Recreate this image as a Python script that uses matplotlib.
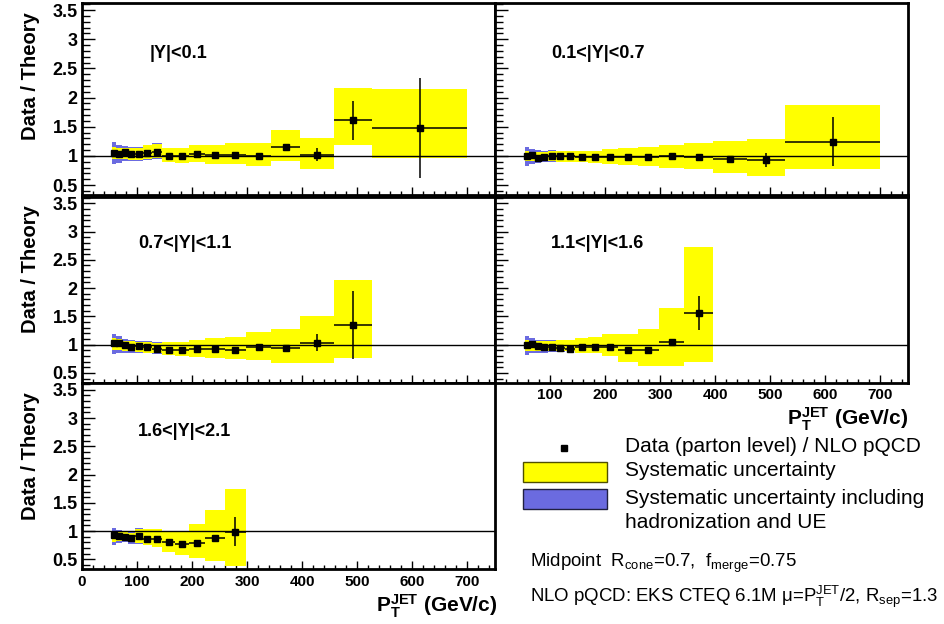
import matplotlib
matplotlib.use("Agg")
import matplotlib.pyplot as plt
from matplotlib.ticker import FixedLocator, MultipleLocator, FuncFormatter, NullFormatter
from matplotlib.patches import Rectangle
from matplotlib.lines import Line2D
import numpy as np

plt.rcParams['font.family'] = ['Liberation Sans', 'DejaVu Sans']
plt.rcParams['mathtext.fontset'] = 'custom'
plt.rcParams['mathtext.rm'] = 'Liberation Sans'
plt.rcParams['mathtext.it'] = 'Liberation Sans:italic'
plt.rcParams['mathtext.bf'] = 'Liberation Sans:bold'

# ---- data: jet pT bins (GeV/c) and Data/Theory ratios per rapidity region ----
pt_edges = [54, 62, 72, 83, 96, 110, 127, 146, 169, 195, 224, 259, 298, 344, 396, 457, 527, 700]

region_labels = ["|Y|<0.1", "0.1<|Y|<0.7", "0.7<|Y|<1.1", "1.1<|Y|<1.6", "1.6<|Y|<2.1"]

ratio_y1 = [1.05, 1.04, 1.06, 1.03, 1.03, 1.05, 1.07, 1.00, 1.00, 1.03, 1.01, 1.02, 1.00, 1.15, 1.02, 1.61, 1.48]
stat_y1 = [0.01, 0.01, 0.01, 0.01, 0.01, 0.01, 0.01, 0.01, 0.01, 0.01, 0.01, 0.01, 0.02, 0.03, 0.11, 0.33, 0.86]
sys_lo_y1 = [0.94, 0.94, 0.94, 0.93, 0.93, 0.94, 0.96, 0.89, 0.88, 0.89, 0.86, 0.86, 0.82, 0.91, 0.77, 1.18, 0.96]
sys_hi_y1 = [1.15, 1.13, 1.14, 1.13, 1.13, 1.18, 1.21, 1.14, 1.13, 1.19, 1.18, 1.22, 1.22, 1.45, 1.31, 2.16, 2.15]
had_y1 = [0.08, 0.06, 0.03, 0.02, 0.02, 0.01, 0.01, 0.0, 0.0, 0.0, 0.0, 0.0, 0.0, 0.0, 0.0, 0.0, 0.0]

ratio_y2 = [1.00, 1.01, 0.97, 0.98, 0.99, 1.00, 1.00, 0.98, 0.98, 0.98, 0.98, 0.98, 0.99, 0.98, 0.94, 0.93, 1.24]
stat_y2 = [0.01, 0.01, 0.01, 0.01, 0.01, 0.01, 0.01, 0.01, 0.01, 0.01, 0.01, 0.01, 0.01, 0.01, 0.02, 0.12, 0.42]
sys_lo_y2 = [0.91, 0.91, 0.91, 0.91, 0.91, 0.90, 0.90, 0.89, 0.88, 0.86, 0.85, 0.82, 0.79, 0.77, 0.71, 0.66, 0.77]
sys_hi_y2 = [1.08, 1.07, 1.07, 1.07, 1.08, 1.08, 1.08, 1.09, 1.09, 1.11, 1.13, 1.16, 1.19, 1.22, 1.25, 1.29, 1.87]
had_y2 = [0.08, 0.05, 0.03, 0.02, 0.02, 0.01, 0.01, 0.0, 0.0, 0.0, 0.0, 0.0, 0.0, 0.0, 0.0, 0.0, 0.0]

ratio_y3 = [1.02, 1.02, 0.99, 0.96, 0.98, 0.96, 0.93, 0.91, 0.91, 0.92, 0.92, 0.91, 0.95, 0.94, 1.035, 1.34]
stat_y3 = [0.01, 0.01, 0.01, 0.01, 0.01, 0.01, 0.01, 0.01, 0.01, 0.01, 0.01, 0.01, 0.01, 0.02, 0.15, 0.60]
sys_lo_y3 = [0.90, 0.90, 0.88, 0.88, 0.87, 0.86, 0.85, 0.81, 0.80, 0.78, 0.76, 0.74, 0.72, 0.68, 0.68, 0.77]
sys_hi_y3 = [1.11, 1.10, 1.07, 1.06, 1.05, 1.05, 1.03, 1.04, 1.05, 1.08, 1.11, 1.14, 1.22, 1.27, 1.51, 2.14]
had_y3 = [0.07, 0.05, 0.03, 0.02, 0.02, 0.01, 0.01, 0.0, 0.0, 0.0, 0.0, 0.0, 0.0, 0.0, 0.0, 0.0]

ratio_y4 = [0.99, 1.01, 0.98, 0.96, 0.96, 0.94, 0.93, 0.96, 0.95, 0.95, 0.91, 0.91, 1.05, 1.555]
stat_y4 = [0.01, 0.01, 0.01, 0.01, 0.01, 0.01, 0.01, 0.01, 0.01, 0.01, 0.01, 0.02, 0.04, 0.30]
sys_lo_y4 = [0.89, 0.89, 0.88, 0.88, 0.88, 0.88, 0.88, 0.86, 0.85, 0.79, 0.70, 0.62, 0.63, 0.69]
sys_hi_y4 = [1.08, 1.07, 1.07, 1.07, 1.07, 1.08, 1.08, 1.12, 1.13, 1.18, 1.18, 1.28, 1.64, 2.73]
had_y4 = [0.07, 0.04, 0.02, 0.02, 0.01, 0.01, 0.0, 0.0, 0.0, 0.0, 0.0, 0.0, 0.0, 0.0]

ratio_y5 = [0.94, 0.91, 0.90, 0.87, 0.91, 0.86, 0.86, 0.80, 0.77, 0.79, 0.87, 0.99]
stat_y5 = [0.01, 0.01, 0.01, 0.01, 0.01, 0.01, 0.01, 0.01, 0.01, 0.02, 0.02, 0.26]
sys_lo_y5 = [0.81, 0.82, 0.82, 0.80, 0.79, 0.75, 0.72, 0.63, 0.57, 0.53, 0.48, 0.385]
sys_hi_y5 = [1.00, 0.99, 0.98, 0.97, 1.04, 1.04, 1.04, 0.99, 0.99, 1.12, 1.38, 1.75]
had_y5 = [0.06, 0.03, 0.02, 0.02, 0.01, 0.0, 0.0, 0.0, 0.0, 0.0, 0.0, 0.0]

y_ticks = [0.5, 1.0, 1.5, 2.0, 2.5, 3.0, 3.5]
x_ticks = [0, 100, 200, 300, 400, 500, 600, 700]

panels = [
    (ratio_y1, stat_y1, sys_lo_y1, sys_hi_y1, had_y1),
    (ratio_y2, stat_y2, sys_lo_y2, sys_hi_y2, had_y2),
    (ratio_y3, stat_y3, sys_lo_y3, sys_hi_y3, had_y3),
    (ratio_y4, stat_y4, sys_lo_y4, sys_hi_y4, had_y4),
    (ratio_y5, stat_y5, sys_lo_y5, sys_hi_y5, had_y5),
]

YELLOW = '#ffff00'
BLUE = '#6b6be0'

W, H = 945, 624
fig = plt.figure(figsize=(W / 100, H / 100), dpi=100)
fig.patch.set_facecolor('white')


def add_axes_px(x0, y0, x1, y1):
    return fig.add_axes([x0 / W, 1 - y1 / H, (x1 - x0) / W, (y1 - y0) / H])


# pad layout in pixels: (left, top, right, bottom)
boxes = [
    (82, 3, 495, 195),
    (495, 3, 908, 195),
    (82, 196.5, 495, 382.5),
    (495, 196.5, 908, 382.5),
    (82, 383, 495, 569),
]
label_pos = [(150, 54), (551, 54), (138, 244), (551, 244), (138, 431)]

fmt = FuncFormatter(lambda v, p: ('%g' % v))

for i, (box, data) in enumerate(zip(boxes, panels)):
    ratio, stat, lo, hi, had = [np.asarray(a, float) for a in data]
    n = len(ratio)
    edges = np.asarray(pt_edges[:n + 1], float)
    left = edges[:-1]
    width = np.diff(edges)
    centers = left + width / 2

    ax = add_axes_px(*box)
    ax.set_xlim(0, 750)
    ax.set_ylim(0.33, 3.62)

    # total systematic band (incl. hadronization and UE) behind the systematic band
    ax.bar(left, (hi - lo) + 2 * had, bottom=lo - had, width=width, align='edge',
           color=BLUE, edgecolor='none', zorder=1)
    ax.bar(left, hi - lo, bottom=lo, width=width, align='edge',
           color=YELLOW, edgecolor='none', zorder=2)
    ax.axhline(1.0, color='black', lw=1.0, zorder=3)
    ax.errorbar(centers, ratio, xerr=width / 2, yerr=stat, fmt='s', color='black',
                ms=4.5, elinewidth=1.1, capsize=0, zorder=4)

    for s in ax.spines.values():
        s.set_linewidth(2.0)
        s.set_zorder(6)

    ax.yaxis.set_major_locator(FixedLocator(y_ticks))
    ax.yaxis.set_minor_locator(MultipleLocator(0.1))
    ax.xaxis.set_major_locator(FixedLocator(x_ticks))
    ax.xaxis.set_minor_locator(MultipleLocator(20))
    ax.tick_params(axis='y', which='major', direction='in', length=9, width=1,
                   right=False, labelsize=13, pad=3)
    ax.tick_params(axis='y', which='minor', direction='in', length=5.5, width=1, right=False)
    ax.tick_params(axis='x', which='major', direction='in', length=5.5, width=1,
                   top=False, labelsize=11, pad=4)
    ax.tick_params(axis='x', which='minor', direction='in', length=3, width=1, top=False)

    if i in (0, 2, 4):
        ax.yaxis.set_major_formatter(fmt)
    else:
        ax.yaxis.set_major_formatter(NullFormatter())
    if i == 4:
        ax.xaxis.set_major_formatter(fmt)
    elif i == 3:
        ax.xaxis.set_major_formatter(FuncFormatter(lambda v, p: '' if v == 0 else '%g' % v))
    else:
        ax.xaxis.set_major_formatter(NullFormatter())
    for lab in ax.get_xticklabels() + ax.get_yticklabels():
        lab.set_fontweight('bold')

    lx, ly = label_pos[i]
    fig.text(lx / W, 1 - ly / H, region_labels[i], fontsize=13, fontweight='bold',
             ha='left', va='center')

# y-axis titles, aligned at the top of each row
for top in (12, 205, 392):
    fig.text(31 / W, 1 - top / H, 'Data / Theory', rotation=90, fontsize=14.5,
             fontweight='bold', ha='center', va='top')

# x-axis titles, aligned at the right end of the axes
xtitle = r'$\mathbf{P_T^{JET}}$ (GeV/c)'
fig.text(497 / W, 1 - 612 / H, xtitle, fontsize=15, fontweight='bold', ha='right', va='baseline')
fig.text(908 / W, 1 - 425 / H, xtitle, fontsize=15, fontweight='bold', ha='right', va='baseline')

# legend
fig.add_artist(Line2D([564 / W], [1 - 448 / H], marker='s', ms=4, color='black',
                      transform=fig.transFigure))
fig.add_artist(Rectangle((523 / W, 1 - 482 / H), 84 / W, 20 / H, facecolor=YELLOW,
                         edgecolor='#505000', lw=1, transform=fig.transFigure))
fig.add_artist(Rectangle((523 / W, 1 - 509 / H), 84 / W, 20 / H, facecolor=BLUE,
                         edgecolor='#202040', lw=1, transform=fig.transFigure))
legend_lines = [
    (446, 'Data (parton level) / NLO pQCD'),
    (471, 'Systematic uncertainty'),
    (498, 'Systematic uncertainty including'),
    (523, 'hadronization and UE'),
]
for y, t in legend_lines:
    fig.text(625 / W, 1 - y / H, t, fontsize=15, ha='left', va='center')

fig.text(530 / W, 1 - 567 / H, r'Midpoint  R$_{\rm cone}$=0.7,  f$_{\rm merge}$=0.75',
         fontsize=13.4, ha='left', va='baseline')
fig.text(530 / W, 1 - 602 / H,
         'NLO pQCD: EKS CTEQ 6.1M \u03bc=P' + r'$_{\rm T}^{\rm JET}$' + '/2, R' + r'$_{\rm sep}$' + '=1.3',
         fontsize=13.4, ha='left', va='baseline')

fig.savefig('out.png', dpi=100, facecolor='white')
